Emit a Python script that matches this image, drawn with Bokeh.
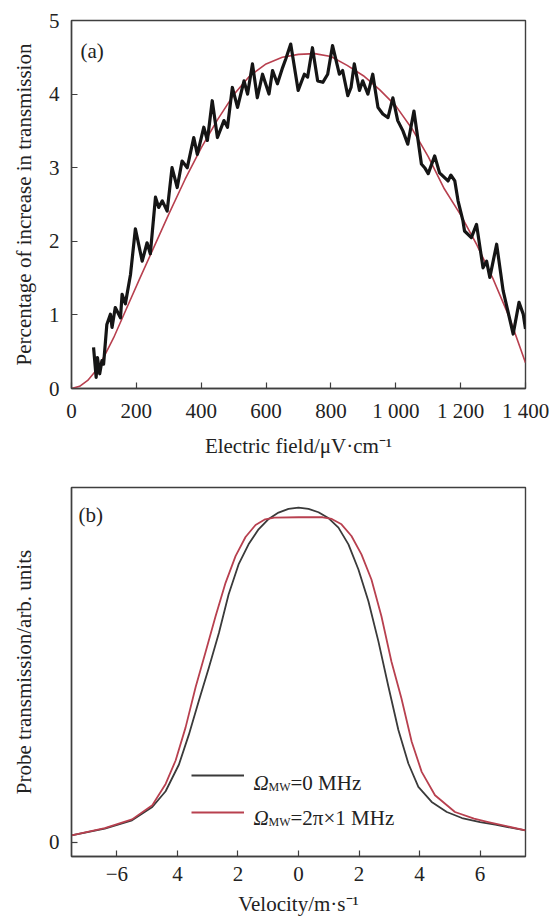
from bokeh.plotting import figure
from bokeh.models import FixedTicker, Label, Legend, LegendItem, Range1d
from bokeh.layouts import column
from bokeh.embed import file_html
from bokeh.resources import INLINE

# ---------------- Panel (a) data ----------------
field_meas = [68, 76, 80, 87, 94, 99, 109, 120, 125, 135, 151, 156, 166, 182, 197, 218, 233, 243,
              259, 269, 280, 295, 310, 326, 341, 357, 377, 388, 408, 419, 434, 450, 470, 481,
              496, 512, 532, 543, 558, 573, 589, 609, 620, 635, 651, 661, 676, 699, 718, 728,
              743, 759, 775, 790, 805, 826, 836, 852, 862, 872, 888, 898, 914, 929, 945, 960,
              976, 991, 1006, 1022, 1037, 1056, 1079, 1089, 1100, 1120, 1135, 1161, 1170, 1182,
              1192, 1207, 1212, 1233, 1249, 1269, 1280, 1290, 1311, 1331, 1362, 1380, 1393, 1400]
pct_meas = [0.56, 0.15, 0.42, 0.20, 0.38, 0.33, 0.87, 1.01, 0.83, 1.10, 0.96, 1.28, 1.15, 1.55,
            2.17, 1.73, 1.98, 1.83, 2.60, 2.46, 2.55, 2.41, 3.00, 2.73, 3.09, 3.00, 3.41, 3.18,
            3.55, 3.37, 3.91, 3.41, 3.64, 3.55, 4.09, 3.82, 4.18, 4.00, 4.41, 3.95, 4.27, 4.00,
            4.32, 4.14, 4.36, 4.48, 4.68, 4.05, 4.27, 4.23, 4.63, 4.18, 4.16, 4.27, 4.66, 4.27,
            4.32, 3.98, 4.09, 4.41, 4.05, 4.18, 4.00, 4.27, 3.82, 3.73, 3.68, 3.95, 3.64, 3.50,
            3.32, 3.77, 3.05, 3.00, 2.92, 3.16, 2.93, 2.82, 2.90, 2.82, 2.55, 2.28, 2.14, 2.05,
            2.23, 1.64, 1.73, 1.51, 1.96, 1.33, 0.74, 1.17, 1.01, 0.81]

field_fit = [0, 25, 50, 75, 100, 130, 170, 210, 250, 300, 350, 400, 450, 500, 550, 600, 650,
             700, 750, 800, 850, 900, 950, 1000, 1050, 1100, 1150, 1200, 1250, 1300, 1350, 1400]
pct_fit = [0.0, 0.03, 0.11, 0.24, 0.43, 0.69, 1.09, 1.49, 1.88, 2.37, 2.84, 3.27, 3.65, 3.99,
           4.25, 4.41, 4.50, 4.54, 4.55, 4.51, 4.39, 4.25, 4.06, 3.84, 3.53, 3.15, 2.71, 2.36,
           1.95, 1.49, 0.97, 0.35]

field_ticks = [0, 200, 400, 600, 800, 1000, 1200, 1400]
field_tick_labels = ["0", "200", "400", "600", "800", "1 000", "1 200", "1 400"]
pct_ticks = [0, 1, 2, 3, 4, 5]

# ---------------- Panel (b) data ----------------
vel_0 = [-7.5, -6.4, -5.5, -4.83, -4.39, -3.95, -3.62, -3.29, -2.96, -2.63, -2.31, -1.98, -1.65,
         -1.32, -1.0, -0.66, -0.33, 0.0, 0.33, 0.66, 1.0, 1.32, 1.65, 1.98, 2.31, 2.64, 2.97,
         3.3, 3.63, 3.96, 4.4, 4.9, 5.4, 6.0, 6.5, 7.5]
trans_0 = [0.02, 0.04, 0.065, 0.105, 0.152, 0.232, 0.322, 0.423, 0.522, 0.625, 0.74, 0.83, 0.89,
           0.935, 0.965, 0.985, 0.996, 1.0, 0.996, 0.986, 0.968, 0.94, 0.89, 0.815, 0.72, 0.6,
           0.465, 0.335, 0.235, 0.165, 0.12, 0.09, 0.072, 0.06, 0.052, 0.035]

vel_1 = [-7.5, -6.4, -5.5, -4.83, -4.39, -4.06, -3.73, -3.4, -3.07, -2.74, -2.41, -2.08, -1.75,
         -1.42, -1.1, -0.8, 0.0, 0.8, 1.1, 1.42, 1.75, 2.08, 2.41, 2.74, 3.07, 3.4, 3.74, 4.07,
         4.51, 5.17, 5.8, 6.27, 7.5]
trans_1 = [0.02, 0.042, 0.068, 0.11, 0.174, 0.244, 0.343, 0.463, 0.568, 0.675, 0.775, 0.855,
           0.912, 0.948, 0.965, 0.97, 0.971, 0.971, 0.966, 0.95, 0.915, 0.86, 0.785, 0.675,
           0.54, 0.43, 0.30, 0.21, 0.14, 0.09, 0.07, 0.06, 0.035]

vel_ticks = [-6, -4, -2, 0, 2, 4, 6]
vel_tick_labels = ["\u22126", "4", "2", "0", "2", "4", "6"]

SERIF = "serif"
FRAME = "#3f3f3f"
RED = "#b8404f"


def style(p):
    p.outline_line_color = FRAME
    p.outline_line_width = 1.4
    p.background_fill_color = "white"
    p.border_fill_color = "white"
    p.grid.visible = False
    for ax in (p.xaxis[0], p.yaxis[0]):
        ax.axis_line_color = FRAME
        ax.axis_line_width = 1.4
        ax.major_tick_line_color = FRAME
        ax.major_tick_line_width = 1.2
        ax.major_tick_in = 6
        ax.major_tick_out = 0
        ax.minor_tick_line_color = None
        ax.major_label_text_font = SERIF
        ax.major_label_text_font_size = "21px"
        ax.major_label_text_color = "#222222"
        ax.axis_label_text_font = SERIF
        ax.axis_label_text_font_size = "21px"
        ax.axis_label_text_font_style = "normal"
        ax.axis_label_text_color = "#222222"
    p.yaxis.major_label_standoff = 12
    p.yaxis.axis_label_standoff = 10
    p.xaxis.major_label_standoff = 10
    p.xaxis.axis_label_standoff = 8


# ---------------- Panel (a) ----------------
pa = figure(width=549, height=470, output_backend="svg", toolbar_location=None,
            x_range=Range1d(0, 1400), y_range=Range1d(0, 5),
            min_border_left=71, min_border_right=24, min_border_top=20, min_border_bottom=82)
style(pa)
pa.xaxis.ticker = FixedTicker(ticks=field_ticks)
pa.xaxis.major_label_overrides = dict(zip(field_ticks, field_tick_labels))
pa.yaxis.ticker = FixedTicker(ticks=pct_ticks)
pa.xaxis.axis_label = "Electric field/\u03bcV\u00b7cm\u207b\u00b9"
pa.yaxis.axis_label = "Percentage of increase in transmission"

pa.line(field_fit, pct_fit, line_color=RED, line_width=1.6)
pa.line(field_meas, pct_meas, line_color="#151515", line_width=3.2, line_join="round")

pa.add_layout(Label(x=9, y=338, x_units="screen", y_units="screen", text="(a)",
                    text_font=SERIF, text_font_size="21px", text_color="#222222",
                    text_baseline="alphabetic"))

# ---------------- Panel (b) ----------------
pb = figure(width=549, height=450, output_backend="svg", toolbar_location=None,
            x_range=Range1d(-7.5, 7.5), y_range=Range1d(-0.043, 1.06),
            min_border_left=71, min_border_right=24, min_border_top=17, min_border_bottom=64)
style(pb)
pb.xaxis.ticker = FixedTicker(ticks=vel_ticks)
pb.xaxis.major_label_overrides = dict(zip(vel_ticks, vel_tick_labels))
pb.yaxis.ticker = FixedTicker(ticks=[0])
pb.xaxis.axis_label = "Velocity/m\u00b7s\u207b\u00b9"
pb.yaxis.axis_label = "Probe transmission/arb. units"

r0 = pb.line(vel_0, trans_0, line_color="#3a3a3a", line_width=1.8, line_join="round")
r1 = pb.line(vel_1, trans_1, line_color=RED, line_width=1.8, line_join="round")

legend = Legend(items=[LegendItem(label=" ", renderers=[r0]),
                       LegendItem(label=" ", renderers=[r1])],
                location=(120, 34), padding=0, margin=0, spacing=17,
                glyph_width=53, glyph_height=20, label_height=20, label_width=0,
                label_standoff=0, label_text_font_size="2px",
                border_line_alpha=0, background_fill_alpha=0)
pb.add_layout(legend)

legend_rows = [("=0 MHz", 74), ("=2\u03c0\u00d71 MHz", 39)]
for txt, yb in legend_rows:
    pb.add_layout(Label(x=182, y=yb, x_units="screen", y_units="screen", text="\u03a9",
                        text_font=SERIF, text_font_style="italic", text_font_size="21px",
                        text_color="#222222", text_baseline="alphabetic"))
    pb.add_layout(Label(x=197, y=yb - 4, x_units="screen", y_units="screen", text="MW",
                        text_font=SERIF, text_font_size="12px",
                        text_color="#222222", text_baseline="alphabetic"))
    pb.add_layout(Label(x=219, y=yb, x_units="screen", y_units="screen", text=txt,
                        text_font=SERIF, text_font_size="21px",
                        text_color="#222222", text_baseline="alphabetic"))

pb.add_layout(Label(x=7, y=342, x_units="screen", y_units="screen", text="(b)",
                    text_font=SERIF, text_font_size="21px", text_color="#222222",
                    text_baseline="alphabetic"))

layout = column(pa, pb, spacing=0)
open("out.html", "w").write(file_html(layout, INLINE))
